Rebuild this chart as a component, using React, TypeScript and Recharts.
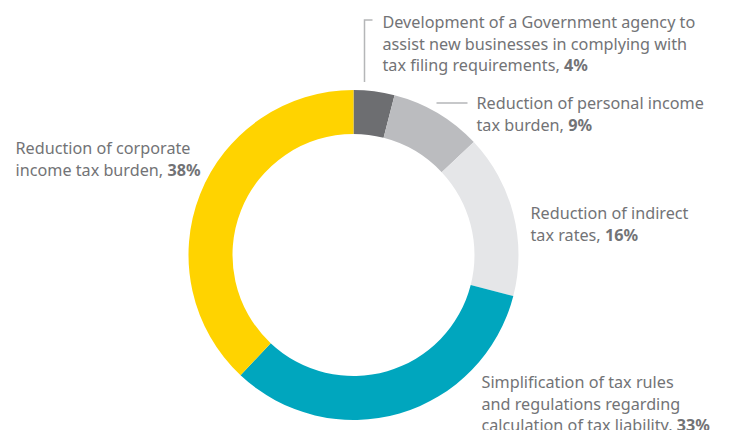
import { PieChart, Pie, Cell } from 'recharts';

const categories = [
  'Development of a Government agency to assist new businesses in complying with tax filing requirements',
  'Reduction of personal income tax burden',
  'Reduction of indirect tax rates',
  'Simplification of tax rules and regulations regarding calculation of tax liability',
  'Reduction of corporate income tax burden',
];
const shares = [4, 9, 16, 33, 38];
const labelLines = [
  ['Development of a Government agency to', 'assist new businesses in complying with', 'tax filing requirements, '],
  ['Reduction of personal income', 'tax burden, '],
  ['Reduction of indirect', 'tax rates, '],
  ['Simplification of tax rules', 'and regulations regarding', 'calculation of tax liability, '],
  ['Reduction of corporate', 'income tax burden, '],
];
const colors = ['#6d6e71', '#bbbcbf', '#e5e6e8', '#00a6be', '#ffd300'];

// label anchor offsets from pie centre (x of text start, y of first baseline)
const labelPos = [
  { dx: 29, dy: -227 },
  { dx: 123, dy: -146 },
  { dx: 177, dy: -36 },
  { dx: 128, dy: 133 },
  { dx: -338, dy: -101 },
];

const data = categories.map((name, i) => ({ name, value: shares[i] }));

const TEXT = '#727376';

function renderLabel(props: any) {
  const { cx, cy, index } = props;
  const pos = labelPos[index];
  const lines = labelLines[index];
  const x = cx + pos.dx;
  const y = cy + pos.dy;
  return (
    <g key={`lbl-${index}`}>
      {index === 0 && (
        <polyline
          points={`${cx + 19},${cy - 235} ${cx + 11},${cy - 235} ${cx + 11},${cy - 173}`}
          fill="none"
          stroke="#b5b6b8"
          strokeWidth={1.5}
        />
      )}
      {index === 1 && (
        <line x1={cx + 83} y1={cy - 152} x2={cx + 114} y2={cy - 152} stroke="#b5b6b8" strokeWidth={1.5} />
      )}
      <text x={x} y={y} fill={TEXT} fontSize={16.2} fontFamily="'Noto Sans', sans-serif">
        {lines.map((ln, j) => (
          <tspan key={j} x={x} dy={j === 0 ? 0 : 21.5}>
            {ln}
            {j === lines.length - 1 && <tspan fontWeight="bold">{shares[index]}%</tspan>}
          </tspan>
        ))}
      </text>
    </g>
  );
}

export default function App() {
  return (
    <div style={{ position: 'absolute', left: 0, top: 0, background: '#fff' }}>
      <PieChart width={732} height={430} margin={{ top: 0, right: 0, bottom: 0, left: 0 }}>
        <Pie
          data={data}
          dataKey="value"
          nameKey="name"
          cx={353.5}
          cy={255}
          innerRadius={121}
          outerRadius={165}
          startAngle={90}
          endAngle={-270}
          stroke="none"
          label={renderLabel}
          labelLine={false}
          isAnimationActive={false}
        >
          {data.map((entry, i) => (
            <Cell key={`cell-${i}`} fill={colors[i]} />
          ))}
        </Pie>
      </PieChart>
    </div>
  );
}
